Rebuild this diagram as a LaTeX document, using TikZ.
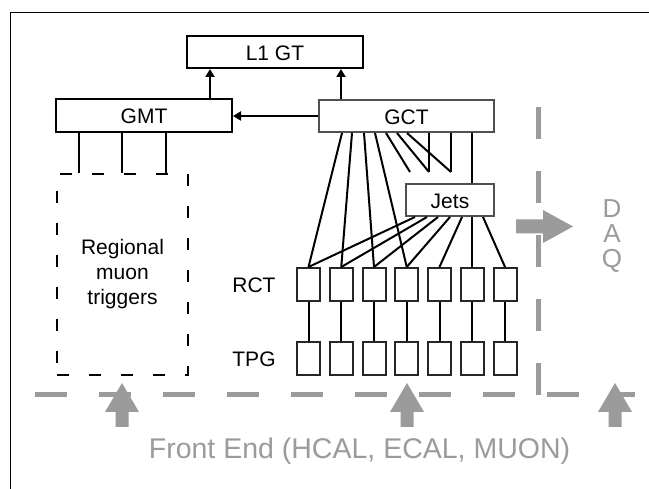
\documentclass[tikz,border=0pt]{standalone}
\usepackage{fontspec}
\setmainfont{Liberation Sans}
\usetikzlibrary{arrows.meta}
\definecolor{lightg}{RGB}{155,155,155}
\definecolor{boxg}{RGB}{80,80,80}
\begin{document}
\begin{tikzpicture}[x=1pt,y=-1pt,
  lbl/.style={font=\fontsize{21}{25}\selectfont},
  box/.style={draw, line width=2pt, fill=white, inner sep=0pt, text height=17pt, text depth=0pt, lbl},
  small/.style={draw=black!85, line width=2pt, minimum width=23pt, minimum height=33pt, inner sep=0pt},
  wire/.style={line width=2pt},
  arr/.style={wire, -{Triangle[length=8pt,width=9pt]}},
  gdash/.style={draw=lightg, line width=5pt, dash pattern=on 32pt off 32pt},
  garrow/.style={fill=lightg}]
\fill[white] (0,0) rectangle (649,489);
\useasboundingbox (0,0) rectangle (649,489);
% frame
\draw[line width=1.8pt] (10.5,489) -- (10.5,12.5) -- (649,12.5);
% boxes
\node[box, minimum width=176pt, minimum height=32pt] (l1gt) at (275,52) {L1 GT};
\node[box, minimum width=176pt, minimum height=33pt] (gmt) at (144,115.5) {GMT};
\node[box, draw=boxg, minimum width=175pt, minimum height=32pt] (gct) at (406.5,116) {GCT};
\node[box, draw=boxg, minimum width=88pt, minimum height=32pt] (jets) at (450,200) {Jets};
\node[draw, line width=2pt, dash pattern=on 12pt off 20pt, minimum width=131pt, minimum height=201pt, inner sep=0pt, align=center, lbl] (reg) at (122.5,274.5) {Regional\\muon\\triggers};
\foreach \i in {1,...,7} {
  \node[small] (r\i) at ({308.5+32.75*(\i-1)},284.5) {};
  \node[small] (t\i) at ({308.5+32.75*(\i-1)},358.5) {};
  \draw[wire] (r\i.south) -- (t\i.north);
}
\node[lbl, anchor=base] (rctl) at (254,293) {RCT};
\node[lbl, anchor=base] (tpgl) at (254,367) {TPG};
% arrows to L1 GT and GMT
\draw[arr] (gmt.north -| 210,0) -- (l1gt.south -| 210,0);
\draw[arr] (gct.north -| 341,0) -- (l1gt.south -| 341,0);
\draw[arr] (gct.west) -- (gct.west -| gmt.east);
% GMT to regional muon triggers
\foreach \x in {79,122,166} \draw[wire] (gmt.south -| \x,0) -- (reg.north -| \x,0);
% GCT to RCT
\draw[wire] (gct.south -| 342,0) -- (r1.north);
\draw[wire] (gct.south -| 352,0) -- (r2.north);
\draw[wire] (gct.south -| 364,0) -- (r3.north);
\draw[wire] (gct.south -| 375,0) -- (r4.north);
\coordinate (s1) at (410,172);
\coordinate (s2) at (429,172);
\coordinate (s3) at (451,172);
\draw[wire] (gct.south -| 386,0) -- (s1);
\draw[wire] (gct.south -| 397,0) -- (s2);
\draw[wire] (gct.south -| 407,0) -- (s3);
\draw[wire] (gct.south -| s2) -- (s2);
\draw[wire] (gct.south -| s3) -- (s3);
\draw[wire] (gct.south -| r6.north) -- (jets.north -| r6.north);
\draw[wire] (jets.south -| r6.north) -- (r6.north);
% Jets to RCT
\draw[wire] (jets.south -| 415,0) -- (r1.north);
\draw[wire] (jets.south -| 427,0) -- (r2.north);
\draw[wire] (jets.south -| 438,0) -- (r3.north);
\draw[wire] (jets.south -| 450,0) -- (r4.north);
\draw[wire] (jets.south -| 462,0) -- (r5.north);
\draw[wire] (jets.south -| 483,0) -- (r7.north);
% gray dashed boundaries
\draw[gdash] (35,395) -- (635,395);
\draw[gdash] (538,395) -- (538,107);
% gray block arrows
\foreach \c in {122,407,615}
  \fill[garrow] (\c-6.5,427) -- (\c-6.5,412) -- (\c-17,412) -- (\c,383) -- (\c+17,412) -- (\c+6.5,412) -- (\c+6.5,427) -- cycle;
\fill[garrow] (516,219.5) -- (543,219.5) -- (543,210) -- (573,226.5) -- (543,243) -- (543,233.5) -- (516,233.5) -- cycle;
% DAQ and Front End labels
\node[font=\fontsize{26}{25}\selectfont, text=lightg, align=center] (daq) at (612,236.5) {D\\A\\Q};
\node[font=\fontsize{28.5}{30}\selectfont, text=lightg, anchor=base] (fe) at (359.5,459) {Front End (HCAL, ECAL, MUON)};
\end{tikzpicture}
\end{document}
